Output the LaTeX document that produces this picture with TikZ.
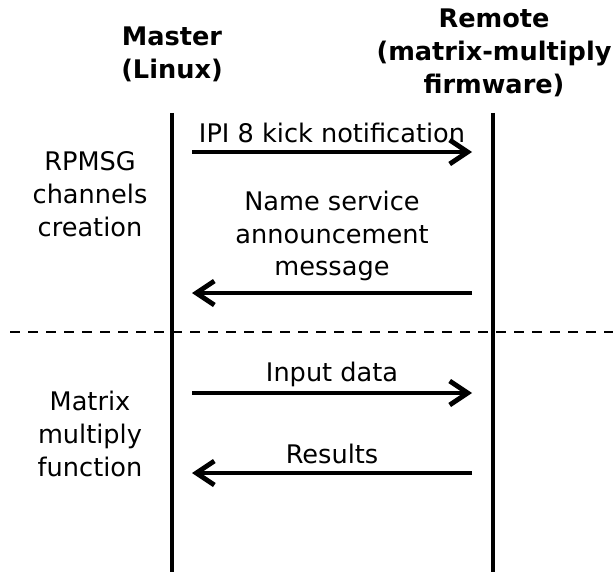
\documentclass[tikz,border=0pt]{standalone}
\usepackage{fontspec}
\setmainfont{DejaVu Sans}
\usetikzlibrary{arrows.meta,positioning}
\tikzset{
  head/.style={
    align=center,
    inner sep=0pt,
    font=\bfseries\fontsize{12.8}{16.4}\selectfont
  },
  phase/.style={
    align=center,
    inner sep=0pt,
    font=\fontsize{12.8}{16.4}\selectfont
  },
  msgtext/.style={
    align=center,
    inner sep=0pt,
    font=\fontsize{12.8}{16.4}\selectfont
  },
  lifeline/.style={
    line width=2.2pt
  },
  msg/.style={
    -{Straight Barb[length=9pt,width=12pt,line width=2.4pt]},
    line width=2.2pt
  },
  sep/.style={
    dash pattern=on 5pt off 4pt,
    line width=1pt
  }
}
\begin{document}
\begin{tikzpicture}[x=0.5pt,y=-0.5pt]
\useasboundingbox (0,0) rectangle (613,572);
% headers
\node[head] (master) at (172,54) {Master\\(Linux)};
\node[head] (remote) at (494,53) {Remote\\(matrix-multiply\\firmware)};
% lifelines
\coordinate (mtop) at (172,113);
\coordinate (mbot) at (172,572);
\coordinate (rtop) at (493,113);
\coordinate (rbot) at (493,572);
\draw[lifeline] (mtop) -- (mbot);
\draw[lifeline] (rtop) -- (rbot);
% phases
\node[phase] (creation) at (90,194) {RPMSG\\channels\\creation};
\node[phase] (multiply) at (90,434) {Matrix\\multiply\\function};
\coordinate (sepl) at (10,332);
\coordinate (sepr) at (613,332);
\draw[sep] (sepl) -- (sepr);
% messages
\coordinate (m1) at (192,152);
\coordinate (r1) at (472,152);
\coordinate (m2) at (192,293);
\coordinate (r2) at (472,293);
\coordinate (m3) at (192,393);
\coordinate (r3) at (472,393);
\coordinate (m4) at (192,473);
\coordinate (r4) at (472,473);
\draw[msg] (m1) -- (r1);
\draw[msg] (r2) -- (m2);
\draw[msg] (m3) -- (r3);
\draw[msg] (r4) -- (m4);
\node[msgtext] (kick) at (332,133) {IPI 8 kick notification};
\node[msgtext] (ns) at (332,236) {Name service\\announcement\\message};
\node[msgtext] (input) at (332,374) {Input data};
\node[msgtext] (results) at (332,454) {Results};
\end{tikzpicture}
\end{document}
